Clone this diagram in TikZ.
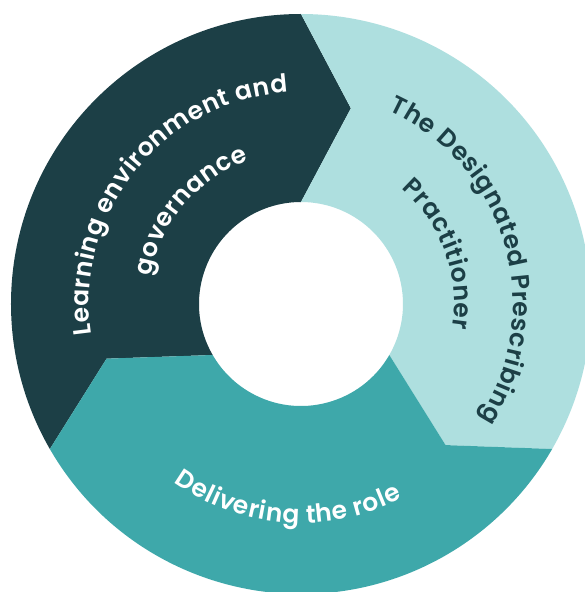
\documentclass[tikz,border=0pt]{standalone}
\usepackage{fontspec}
\usetikzlibrary{decorations.text}
\newfontfamily\pop{Poppins SemiBold}
\definecolor{segdark}{HTML}{1C3F46}
\definecolor{seglight}{HTML}{AEDFDF}
\definecolor{segteal}{HTML}{3EA8AA}
\newcommand\lblw{\pop\fontsize{25}{30}\selectfont\color{white}\kern0.6pt}
\newcommand\lbld{\pop\fontsize{25}{30}\selectfont\color{segdark}\kern0.6pt}
\tikzset{
  arctext/.style={decorate, decoration={text along path, text align=center, text={#1}}}
}
\begin{document}
\begin{tikzpicture}
\useasboundingbox (-301pt,-288pt) rectangle (283pt,304pt);
\fill[white] (-301pt,-288pt) rectangle (283pt,304pt);
\def\Ro{290pt}\def\Ri{102pt}\def\Rt{202pt}
% segment: dark (90..210)
\fill[segdark] (90:\Ro) arc[start angle=90, end angle=210, radius=\Ro] -- (195.7:\Rt) -- (210:\Ri)
  arc[start angle=210, end angle=90, radius=\Ri] -- (75.7:\Rt) -- cycle;
% light (-30..90)
\fill[seglight] (-30:\Ro) arc[start angle=-30, end angle=90, radius=\Ro] -- (75.7:\Rt) -- (90:\Ri)
  arc[start angle=90, end angle=-30, radius=\Ri] -- (-44.3:\Rt) -- cycle;
% teal (210..330)
\fill[segteal] (210:\Ro) arc[start angle=210, end angle=330, radius=\Ro] -- (315.7:\Rt) -- (330:\Ri)
  arc[start angle=330, end angle=210, radius=\Ri] -- (195.7:\Rt) -- cycle;
% labels
\path[arctext={|\lblw|Learning environment and}] (211:212pt) arc[start angle=211, end angle=71, radius=212pt];
\path[arctext={|\lblw|governance}] (200:153pt) arc[start angle=200, end angle=80, radius=153pt];
\path[arctext={|\lbld|The Designated Prescribing}] (91.5:212pt) arc[start angle=91.5, end angle=-58.5, radius=212pt];
\path[arctext={|\lbld|Practitioner}] (80:153pt) arc[start angle=80, end angle=-40, radius=153pt];
\path[arctext={|\lblw|Delivering the role}] (196:219pt) arc[start angle=196, end angle=336, radius=219pt];
\end{tikzpicture}
\end{document}
